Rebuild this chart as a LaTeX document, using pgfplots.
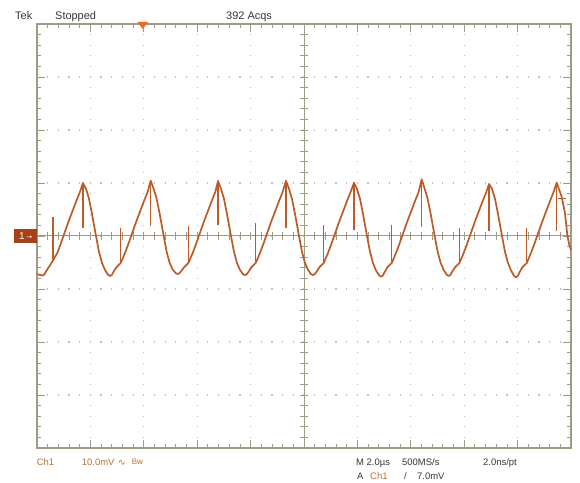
\documentclass[border=0pt]{standalone}
\usepackage{pgfplots}
\pgfplotsset{compat=1.18}
\usepackage{fontspec}
\setmainfont{Liberation Sans}
\newfontfamily\symfont{DejaVu Sans}

\definecolor{grat}{RGB}{160,156,132}
\definecolor{dots}{RGB}{190,190,190}
\definecolor{trace}{RGB}{188,90,40}
\definecolor{chbox}{RGB}{166,66,26}
\definecolor{chtext}{RGB}{186,112,56}
\definecolor{trig}{RGB}{242,104,36}
\definecolor{info}{RGB}{55,55,55}

\pgfplotsset{
  scope/.style={
    at={(37bp,35bp)}, anchor=south west,
    scale only axis, width=534bp, height=424bp,
    xmin=-10, xmax=10, ymin=-40, ymax=40,
    xtick={-10,-8,...,10}, ytick={-40,-30,...,40},
    minor x tick num=4, minor y tick num=4,
    xticklabels={}, yticklabels={},
  }
}

\begin{document}
\begin{tikzpicture}
\useasboundingbox[fill=white] (0,0) rectangle (580bp,483bp);

% graticule: border with ticks, dotted grid
\begin{axis}[scope,
  tick align=inside, major tick length=8bp, minor tick length=4bp,
  tick style={draw=grat, line width=0.8bp},
  axis line style={draw=grat, line width=1.1bp},
  grid=major,
  major x grid style={draw=dots, line width=1.2bp, dash pattern=on 1.2bp off 9.4bp, dash phase=0.6bp},
  major y grid style={draw=dots, line width=1.2bp, dash pattern=on 1.2bp off 9.48bp, dash phase=0.6bp},
]
\end{axis}

% centre cross and the trace (time in us, voltage in mV)
\begin{axis}[scope, clip=false,
  axis lines=middle,
  axis line style={draw=grat, line width=1bp},
  every inner x axis line/.append style={-},
  every inner y axis line/.append style={-},
  tick align=center, major tick length=8bp, minor tick length=8bp,
  tick style={draw=grat, line width=0.8bp},
]
\addplot[trace, line width=1.7bp, line join=round] coordinates {
(-10.000,-7.20) (-9.802,-7.45) (-9.733,-7.30) (-9.653,-6.60) (-9.563,-5.90)
(-9.483,-5.30) (-9.401,-4.60) (-9.240,-3.20) (-9.113,-1.50) (-8.989,0.30)
(-8.828,2.60) (-8.678,4.60) (-8.528,6.60) (-8.393,8.30)
(-8.277,10.00)
(-8.165,8.9) (-8.052,7.0) (-7.940,4.15) (-7.790,0.0) (-7.678,-3.0) (-7.565,-5.1)
(-7.453,-6.4) (-7.341,-7.3) (-7.266,-7.55) (-7.197,-7.35) (-7.117,-6.6) (-7.027,-5.9)
(-6.947,-5.5) (-6.865,-5.1) (-6.704,-3.2) (-6.577,-1.5) (-6.453,0.3) (-6.292,2.6)
(-6.142,4.6) (-5.992,6.6) (-5.857,8.3)
(-5.742,10.43)
(-5.630,8.9) (-5.517,7.0) (-5.405,4.15) (-5.255,0.0) (-5.143,-3.0) (-5.030,-5.1)
(-4.918,-6.3) (-4.806,-7.0) (-4.731,-7.17) (-4.662,-7.0) (-4.582,-6.5) (-4.492,-5.9)
(-4.412,-5.5) (-4.330,-5.1) (-4.169,-3.2) (-4.042,-1.5) (-3.918,0.3) (-3.757,2.6)
(-3.607,4.6) (-3.457,6.6) (-3.322,8.3)
(-3.221,10.38)
(-3.109,8.9) (-2.996,7.0) (-2.884,4.15) (-2.734,0.0) (-2.622,-3.0) (-2.509,-5.1)
(-2.397,-6.4) (-2.285,-7.2) (-2.210,-7.36) (-2.141,-7.2) (-2.061,-6.6) (-1.971,-5.9)
(-1.891,-5.5) (-1.809,-5.1) (-1.648,-3.2) (-1.521,-1.5) (-1.397,0.3) (-1.236,2.6)
(-1.086,4.6) (-0.936,6.6) (-0.801,8.3)
(-0.674,10.40)
(-0.562,8.9) (-0.449,7.0) (-0.337,4.15) (-0.187,0.0) (-0.075,-3.0) (0.038,-5.1)
(0.150,-6.4) (0.262,-7.2) (0.337,-7.36) (0.406,-7.2) (0.486,-6.6) (0.576,-5.9)
(0.656,-5.5) (0.738,-5.1) (0.899,-3.2) (1.026,-1.5) (1.150,0.3) (1.311,2.6)
(1.461,4.6) (1.611,6.6) (1.746,8.3)
(1.873,10.06)
(1.985,8.9) (2.098,7.0) (2.210,4.15) (2.360,0.0) (2.472,-3.0) (2.585,-5.1)
(2.697,-6.5) (2.809,-7.4) (2.884,-7.7) (2.953,-7.45) (3.033,-6.7) (3.123,-5.9)
(3.203,-5.5) (3.285,-5.1) (3.446,-3.2) (3.573,-1.5) (3.697,0.3) (3.858,2.6)
(4.008,4.6) (4.158,6.6) (4.293,8.3)
(4.408,10.70)
(4.520,8.9) (4.633,7.0) (4.745,4.15) (4.895,0.0) (5.007,-3.0) (5.120,-5.1)
(5.232,-6.4) (5.344,-7.3) (5.419,-7.55) (5.488,-7.3) (5.568,-6.6) (5.658,-5.9)
(5.738,-5.5) (5.820,-5.1) (5.981,-3.2) (6.108,-1.5) (6.232,0.3) (6.393,2.6)
(6.543,4.6) (6.693,6.6) (6.828,8.3)
(6.929,9.81)
(7.041,8.9) (7.154,7.0) (7.266,4.15) (7.416,0.0) (7.528,-3.0) (7.641,-5.1)
(7.753,-6.5) (7.865,-7.5) (7.940,-7.8) (8.009,-7.5) (8.089,-6.7) (8.179,-5.9)
(8.259,-5.5) (8.341,-5.1) (8.502,-3.2) (8.629,-1.5) (8.753,0.3) (8.914,2.6)
(9.064,4.6) (9.214,6.6) (9.349,8.3)
(9.464,10.06)
(9.651,7.4) (9.775,4.3) (9.861,0.2) (9.936,-1.7) (10.000,-2.6)
};
% glitches
\addplot[trace, line width=1.2bp, unbounded coords=jump] coordinates {
(-9.401,-4.6) (-9.401,3.64) (nan,nan)
(-6.865,-5.1) (-6.865,1.5) (nan,nan)
(-4.330,-5.1) (-4.330,1.9) (nan,nan)
(-1.809,-5.1) (-1.809,2.45) (nan,nan)
(0.738,-5.1) (0.738,2.1) (nan,nan)
(3.285,-5.1) (3.285,2.1) (nan,nan)
(5.820,-5.1) (5.820,1.5) (nan,nan)
(8.341,-5.1) (8.341,1.5) (nan,nan)
(-8.277,10.0) (-8.277,1.5) (nan,nan)
(-5.742,10.43) (-5.742,1.9) (nan,nan)
(-3.221,10.38) (-3.221,2.1) (nan,nan)
(-0.674,10.4) (-0.674,1.5) (nan,nan)
(1.873,10.06) (1.873,1.1) (nan,nan)
(4.408,10.7) (4.408,1.75) (nan,nan)
(6.929,9.81) (6.929,1.0) (nan,nan)
(9.464,10.06) (9.464,1.0)
};
% trigger level marker
\addplot[trace, line width=1bp] coordinates {(9.50,7.0) (9.82,7.0)};
\end{axis}

% trigger position marker
\fill[trig] (137.2bp,461bp) -- (148.2bp,461bp) -- (142.7bp,454bp) -- cycle;

% channel marker
\node[fill=chbox, text=white, minimum width=23.5bp, minimum height=13.5bp, inner sep=0pt,
      font=\fontsize{10}{12}\selectfont] at (25.7bp,247bp) {1\,{\symfont\fontsize{7}{8}\selectfont →}};

% status line
\begin{scope}[every node/.style={anchor=base west, inner sep=0pt, text=info, font=\fontsize{11}{13}\selectfont}]
\node at (15bp,463.5bp) {Tek};
\node at (55bp,463.5bp) {Stopped};
\node at (226bp,463.5bp) {392 Acqs};
\end{scope}

% readouts
\begin{scope}[every node/.style={anchor=base west, inner sep=0pt, font=\fontsize{9.5}{11}\selectfont}]
\node[text=chtext] at (36.7bp,18bp) {Ch1};
\node[text=chtext] at (81.7bp,18bp) {10.0mV};
\node[text=chtext] at (118bp,18bp) {{\symfont\fontsize{9}{10}\selectfont ∿}};
\node[text=chtext, font=\fontsize{8}{9}\selectfont] at (131.7bp,19bp) {Bw};
\node[text=info] at (356bp,18bp) {M 2.0µs};
\node[text=info] at (402bp,18bp) {500MS/s};
\node[text=info] at (483bp,18bp) {2.0ns/pt};
\node[text=info] at (357bp,3.5bp) {A};
\node[text=chtext] at (370bp,3.5bp) {Ch1};
\node[text=info] at (404bp,3.5bp) {/};
\node[text=info] at (417bp,3.5bp) {7.0mV};
\end{scope}
\end{tikzpicture}
\end{document}
